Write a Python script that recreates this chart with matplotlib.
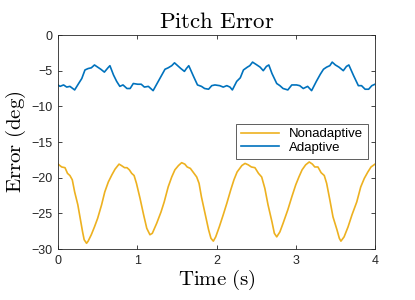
import matplotlib.pyplot as plt

t_non = [0.0, 0.046, 0.088, 0.12, 0.15, 0.18, 0.21, 0.25, 0.28, 0.31, 0.33, 0.36, 0.38,
         0.42, 0.46, 0.50, 0.55, 0.59, 0.635, 0.68, 0.72, 0.77, 0.80, 0.84, 0.87, 0.90,
         0.93, 0.96, 0.99, 1.035, 1.08, 1.12, 1.16, 1.19, 1.245, 1.30, 1.34, 1.39,
         1.435, 1.475, 1.52, 1.56, 1.60, 1.63, 1.67, 1.71, 1.75, 1.78, 1.81, 1.855,
         1.90, 1.93, 1.96, 1.99, 2.035, 2.085, 2.13, 2.18, 2.22, 2.26, 2.32, 2.36,
         2.40, 2.44, 2.485, 2.53, 2.57, 2.61, 2.65, 2.70, 2.73, 2.76, 2.80, 2.84,
         2.90, 2.95, 3.00, 3.04, 3.08, 3.125, 3.17, 3.21, 3.24, 3.28, 3.32, 3.36,
         3.39, 3.43, 3.47, 3.52, 3.55, 3.57, 3.61, 3.66, 3.71, 3.77, 3.82, 3.865,
         3.91, 3.95, 4.0]
e_non = [-18.1, -18.5, -18.6, -19.4, -19.7, -20.3, -22.0, -23.8, -25.7, -27.6, -28.7,
         -29.2, -28.9, -28.0, -26.9, -25.7, -23.8, -22.0, -20.6, -19.6, -18.8, -18.1,
         -18.3, -18.6, -18.6, -18.9, -19.4, -19.7, -20.8, -22.9, -25.2, -27.1, -28.0,
         -27.8, -26.4, -24.8, -23.4, -21.3, -19.9, -18.9, -18.3, -17.9, -18.1, -18.5,
         -18.7, -19.3, -19.9, -20.8, -22.7, -25.0, -27.3, -28.5, -28.9, -28.3, -26.9,
         -25.2, -23.6, -21.7, -20.3, -19.2, -18.3, -18.0, -18.2, -18.5, -18.6, -19.4,
         -19.9, -21.5, -23.8, -26.2, -27.8, -28.3, -27.6, -26.4, -24.5, -22.7, -21.0,
         -19.9, -18.9, -18.2, -17.8, -18.1, -18.5, -18.5, -19.3, -19.7, -20.8, -23.1,
         -25.5, -27.3, -28.5, -28.9, -28.3, -26.9, -25.2, -23.4, -21.3, -20.1, -19.2,
         -18.5, -18.1]

t_ad = [0.0, 0.025, 0.07, 0.11, 0.15, 0.21, 0.26, 0.30, 0.34, 0.38, 0.42, 0.46, 0.50,
        0.54, 0.585, 0.63, 0.655, 0.70, 0.74, 0.78, 0.82, 0.87, 0.91, 0.95, 1.005,
        1.05, 1.09, 1.14, 1.20, 1.265, 1.31, 1.35, 1.39, 1.435, 1.47, 1.51, 1.55,
        1.595, 1.62, 1.65, 1.71, 1.76, 1.81, 1.85, 1.90, 1.94, 1.98, 2.04, 2.085,
        2.13, 2.17, 2.20, 2.255, 2.30, 2.34, 2.39, 2.42, 2.455, 2.51, 2.55, 2.59,
        2.63, 2.66, 2.70, 2.76, 2.80, 2.84, 2.90, 2.95, 3.01, 3.05, 3.095, 3.15,
        3.20, 3.26, 3.31, 3.35, 3.39, 3.43, 3.46, 3.50, 3.545, 3.60, 3.64, 3.67,
        3.73, 3.79, 3.83, 3.875, 3.92, 3.96, 4.0]
e_ad = [-7.0, -7.2, -7.0, -7.3, -7.2, -7.7, -6.8, -6.1, -4.9, -4.7, -4.6, -4.2, -4.5,
        -4.8, -5.2, -4.6, -4.3, -5.6, -6.5, -7.2, -7.0, -7.5, -7.5, -6.8, -6.9,
        -6.9, -7.3, -7.2, -7.8, -6.5, -5.6, -4.8, -4.6, -4.3, -3.9, -4.3, -4.7,
        -5.1, -4.7, -4.3, -5.8, -7.0, -7.2, -7.5, -7.6, -7.1, -7.0, -7.1, -7.3,
        -7.1, -7.3, -7.7, -6.5, -6.0, -4.9, -4.5, -4.3, -3.8, -4.2, -4.5, -5.0,
        -4.4, -4.2, -5.4, -6.8, -7.1, -7.5, -7.7, -7.0, -7.0, -7.1, -7.5, -7.2,
        -7.8, -6.5, -5.5, -4.8, -4.5, -4.3, -3.8, -4.2, -4.5, -5.0, -4.4, -4.2,
        -5.7, -7.1, -7.1, -7.6, -7.6, -7.1, -6.9]

xticks = [0, 1, 2, 3, 4]
yticks = [0, -5, -10, -15, -20, -25, -30]

plt.rcParams['mathtext.fontset'] = 'cm'
plt.rcParams['font.family'] = ['Liberation Sans', 'DejaVu Sans']

fig = plt.figure(figsize=(4.15, 3.0), dpi=100)
ax = fig.add_axes([0.1398, 0.17, 0.7638, 0.7133])

ax.plot(t_non, e_non, color='#EDB120', lw=1.2, label='Nonadaptive')
ax.plot(t_ad, e_ad, color='#0072BD', lw=1.2, label='Adaptive')

ax.set_xlim(0, 4)
ax.set_ylim(-30, 0)
ax.set_xticks(xticks)
ax.set_yticks(yticks)
ax.tick_params(direction='in', length=3, width=0.6, labelsize=9,
               colors='#262626', top=True, right=True, pad=4)
for s in ax.spines.values():
    s.set_linewidth(0.6)
    s.set_color('#262626')

ax.set_title(r'$\mathrm{Pitch\ Error}$', fontsize=16.5, pad=5)
ax.set_xlabel(r'$\mathrm{Time\ (s)}$', fontsize=15, labelpad=1)
ax.set_ylabel(r'$\mathrm{Error\ (deg)}$', fontsize=15, labelpad=2)

# legend box sits at about x 237..366, y 122..160 px
leg = ax.legend(loc='center', bbox_to_anchor=(0.769, 0.504), fontsize=9.5,
                fancybox=False, framealpha=1, edgecolor='#444444',
                handlelength=2.9, borderpad=0.35, labelspacing=0.1,
                handletextpad=0.75)
leg.get_frame().set_linewidth(0.6)

fig.savefig('out.png', dpi=100)
